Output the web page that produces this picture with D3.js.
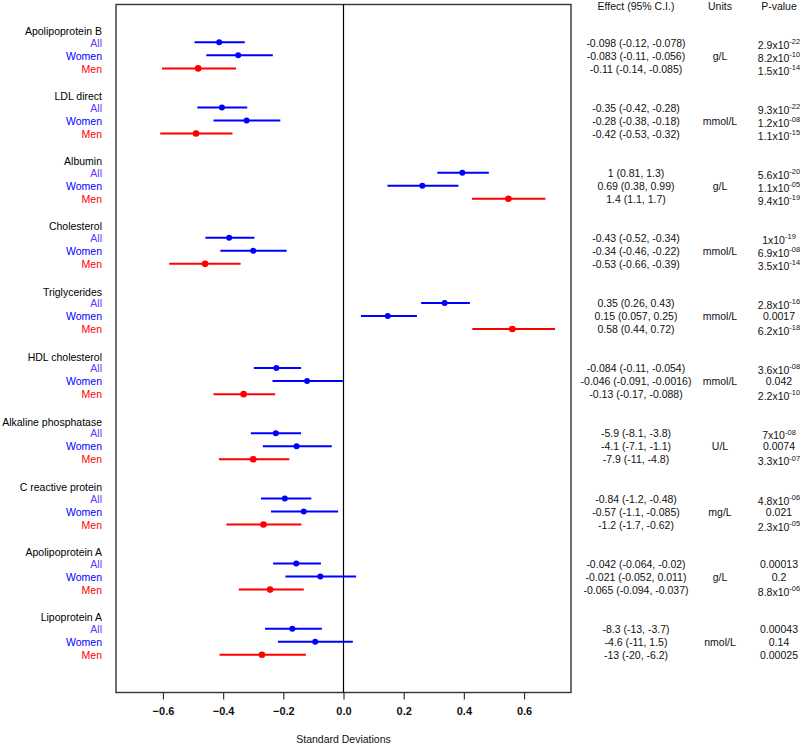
<!DOCTYPE html>
<html>
<head>
<meta charset="utf-8">
<script src="https://cdn.jsdelivr.net/npm/d3@7"></script>
<style>
  html, body { margin: 0; padding: 0; background: #fff; }
  svg { display: block; font-family: "Liberation Sans", Arial, sans-serif; }
</style>
</head>
<body>
<svg id="chart" width="800" height="745"></svg>
<script>
// ---------- data ----------
const groups = ["Apolipoprotein B", "LDL direct", "Albumin", "Cholesterol", "Triglycerides",
  "HDL cholesterol", "Alkaline phosphatase", "C reactive protein", "Apolipoprotein A", "Lipoprotein A"];
const units = ["g/L", "mmol/L", "g/L", "mmol/L", "mmol/L", "mmol/L", "U/L", "mg/L", "g/L", "nmol/L"];
const subgroups = ["All", "Women", "Men"];

// standardized effects (SD) and 95% CI
const allEst   = [-0.413, -0.404, 0.395, -0.380, 0.336, -0.223, -0.225, -0.195, -0.157, -0.170];
const allLo    = [-0.495, -0.486, 0.312, -0.459, 0.258, -0.298, -0.308, -0.274, -0.234, -0.261];
const allHi    = [-0.328, -0.320, 0.483, -0.296, 0.420, -0.141, -0.141, -0.107, -0.075, -0.072];
const womenEst = [-0.350, -0.322, 0.262, -0.300, 0.147, -0.121, -0.156, -0.132, -0.077, -0.094];
const womenLo  = [-0.456, -0.432, 0.146, -0.409, 0.058, -0.236, -0.268, -0.241, -0.193, -0.218];
const womenHi  = [-0.235, -0.210, 0.382, -0.189, 0.244, -0.002, -0.039, -0.018, 0.042, 0.031];
const menEst   = [-0.483, -0.490, 0.548, -0.460, 0.561, -0.332, -0.300, -0.266, -0.244, -0.271];
const menLo    = [-0.603, -0.609, 0.427, -0.579, 0.428, -0.432, -0.414, -0.389, -0.348, -0.412];
const menHi    = [-0.357, -0.369, 0.671, -0.342, 0.703, -0.227, -0.180, -0.140, -0.132, -0.125];

const allEffect = ["-0.098 (-0.12, -0.078)", "-0.35 (-0.42, -0.28)", "1 (0.81, 1.3)", "-0.43 (-0.52, -0.34)",
  "0.35 (0.26, 0.43)", "-0.084 (-0.11, -0.054)", "-5.9 (-8.1, -3.8)", "-0.84 (-1.2, -0.48)",
  "-0.042 (-0.064, -0.02)", "-8.3 (-13, -3.7)"];
const womenEffect = ["-0.083 (-0.11, -0.056)", "-0.28 (-0.38, -0.18)", "0.69 (0.38, 0.99)", "-0.34 (-0.46, -0.22)",
  "0.15 (0.057, 0.25)", "-0.046 (-0.091, -0.0016)", "-4.1 (-7.1, -1.1)", "-0.57 (-1.1, -0.085)",
  "-0.021 (-0.052, 0.011)", "-4.6 (-11, 1.5)"];
const menEffect = ["-0.11 (-0.14, -0.085)", "-0.42 (-0.53, -0.32)", "1.4 (1.1, 1.7)", "-0.53 (-0.66, -0.39)",
  "0.58 (0.44, 0.72)", "-0.13 (-0.17, -0.088)", "-7.9 (-11, -4.8)", "-1.2 (-1.7, -0.62)",
  "-0.065 (-0.094, -0.037)", "-13 (-20, -6.2)"];

const allP   = ["2.9x10^-22", "9.3x10^-22", "5.6x10^-20", "1x10^-19", "2.8x10^-16", "3.6x10^-08", "7x10^-08", "4.8x10^-06", "0.00013", "0.00043"];
const womenP = ["8.2x10^-10", "1.2x10^-08", "1.1x10^-05", "6.9x10^-08", "0.0017", "0.042", "0.0074", "0.021", "0.2", "0.14"];
const menP   = ["1.5x10^-14", "1.1x10^-15", "9.4x10^-19", "3.5x10^-14", "6.2x10^-18", "2.2x10^-10", "3.3x10^-07", "2.3x10^-05", "8.8x10^-06", "0.00025"];

const xTicks = [-0.6, -0.4, -0.2, 0.0, 0.2, 0.4, 0.6];
const xLabel = "Standard Deviations";
const tableHeaders = ["Effect (95% C.I.)", "Units", "P-value"];

// ---------- layout ----------
const colors = { All: "#0000ff", Women: "#0000ff", Men: "#ff0000" };
const labelColors = { All: "#6633ff", Women: "#0000ff", Men: "#ff0000" };
const box = { left: 116, right: 571, top: 4.5, bottom: 692.5 };
const colEffect = 636, colUnits = 720, colP = 779;

const svg = d3.select("#chart");
const x = d3.scaleLinear().domain([-0.756, 0.756]).range([box.left, box.right]);
const y = d3.scaleLinear().domain([0, 50]).range([29.3, 29.3 + 13.03 * 50]);

const rows = [];
groups.forEach((g, i) => {
  const est = [allEst[i], womenEst[i], menEst[i]];
  const lo = [allLo[i], womenLo[i], menLo[i]];
  const hi = [allHi[i], womenHi[i], menHi[i]];
  const eff = [allEffect[i], womenEffect[i], menEffect[i]];
  const pv = [allP[i], womenP[i], menP[i]];
  subgroups.forEach((s, k) => {
    rows.push({ g: i, sub: s, r: i * 5 + k + 1, est: est[k], lo: lo[k], hi: hi[k], eff: eff[k], p: pv[k] });
  });
});

// plot box
svg.append("rect")
  .attr("x", box.left).attr("y", box.top)
  .attr("width", box.right - box.left).attr("height", box.bottom - box.top)
  .attr("fill", "none").attr("stroke", "#333").attr("stroke-width", 1.4);

// zero line
svg.append("line")
  .attr("x1", x(0)).attr("x2", x(0)).attr("y1", box.top).attr("y2", box.bottom)
  .attr("stroke", "#000").attr("stroke-width", 1.2);

// x axis
const axis = d3.axisBottom(x).tickValues(xTicks).tickFormat(d3.format(".1f")).tickSize(7).tickSizeOuter(0);
const ax = svg.append("g").attr("transform", `translate(0,${box.bottom})`).call(axis);
ax.select(".domain").remove();
ax.selectAll(".tick line").attr("stroke", "#333").attr("stroke-width", 1.2);
ax.selectAll(".tick text")
  .attr("y", 15).attr("dy", "0.71em")
  .attr("font-family", "Liberation Sans, Arial, sans-serif")
  .attr("font-size", 11).attr("font-weight", "bold").attr("fill", "#111");

svg.append("text").attr("x", x(0)).attr("y", 739).attr("dy", "0.35em")
  .attr("text-anchor", "middle").attr("font-size", 10.5).attr("fill", "#111").text(xLabel);

// CI lines
svg.append("g").selectAll("line").data(rows).join("line")
  .attr("x1", d => x(d.lo)).attr("x2", d => x(d.hi))
  .attr("y1", d => y(d.r)).attr("y2", d => y(d.r))
  .attr("stroke", d => colors[d.sub]).attr("stroke-width", 2);

// points
svg.append("g").selectAll("circle").data(rows).join("circle")
  .attr("cx", d => x(d.est)).attr("cy", d => y(d.r))
  .attr("r", d => d.sub === "Men" ? 3.3 : 3)
  .attr("fill", d => colors[d.sub]);

// group headers
svg.append("g").selectAll("text").data(groups).join("text")
  .attr("x", 102).attr("y", (d, i) => y(i * 5) + 2).attr("dy", "0.35em")
  .attr("text-anchor", "end").attr("font-size", 10.5).attr("fill", "#000")
  .text(d => d);

// subgroup labels
svg.append("g").selectAll("text").data(rows).join("text")
  .attr("x", 102).attr("y", d => y(d.r) + 0.5).attr("dy", "0.35em")
  .attr("text-anchor", "end").attr("font-size", 10.5).attr("fill", d => labelColors[d.sub])
  .text(d => d.sub);

// table headers
[colEffect, colUnits, colP].forEach((cx, i) => {
  svg.append("text").attr("x", cx).attr("y", 6).attr("dy", "0.35em")
    .attr("text-anchor", "middle").attr("font-size", 10.5).attr("fill", "#111").text(tableHeaders[i]);
});

// effects
svg.append("g").selectAll("text").data(rows).join("text")
  .attr("x", colEffect).attr("y", d => y(d.r) + 0.5).attr("dy", "0.35em")
  .attr("text-anchor", "middle").attr("font-size", 10.5).attr("fill", "#111")
  .text(d => d.eff);

// units
svg.append("g").selectAll("text").data(units).join("text")
  .attr("x", colUnits).attr("y", (d, i) => y(i * 5 + 2) + 0.5).attr("dy", "0.35em")
  .attr("text-anchor", "middle").attr("font-size", 10.5).attr("fill", "#111")
  .text(d => d);

// p-values
const pg = svg.append("g");
rows.forEach(d => {
  const parts = d.p.split("^");
  const t = pg.append("text").attr("x", colP).attr("text-anchor", "middle")
    .attr("font-size", 10.5).attr("fill", "#111");
  if (parts.length === 2) {
    t.attr("y", y(d.r) + 2.5).attr("dy", "0.35em");
    t.append("tspan").text(parts[0]);
    t.append("tspan").attr("font-size", 7.5).attr("dy", "-0.65em").text(parts[1]);
  } else {
    t.attr("y", y(d.r) + 0.5).attr("dy", "0.35em").text(d.p);
  }
});
</script>
</body>
</html>
